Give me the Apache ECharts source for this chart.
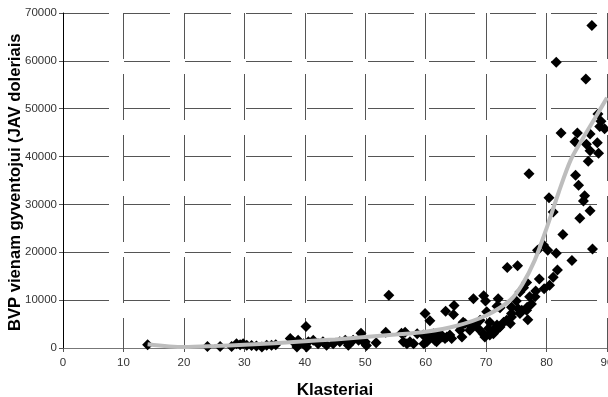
<!DOCTYPE html>
<html>
<head>
<meta charset="utf-8">
<script src="https://cdn.jsdelivr.net/npm/echarts@6/dist/echarts.min.js"></script>
<style>
  html, body { margin: 0; padding: 0; background: #fff; }
  #chart { width: 608px; height: 397px; }
</style>
</head>
<body>
<div id="chart"></div>
<script>
// cluster index (x) and GDP per capita (y)
const pointsX = [
  14.0, 23.9, 26.0, 27.9, 28.7, 29.3, 29.8, 30.4, 31.2, 32.0, 32.9, 33.7, 34.5, 35.2,
  37.6, 38.1, 38.7, 38.9, 39.8, 40.2, 40.3, 40.6, 41.4, 42.2, 43.0, 43.6, 44.7, 45.8, 46.7, 47.2, 48.0, 48.9,
  49.3, 49.7, 50.0, 50.2, 51.8, 53.4, 53.9, 56.0, 56.3, 56.6, 56.9, 57.4, 58.0, 58.6, 59.6, 59.7, 59.9,
  60.2, 60.7, 60.7, 61.3, 61.3, 61.5, 61.8, 62.1, 62.4, 62.7, 63.2, 63.3, 63.5, 64.0, 64.3, 64.6, 64.7,
  65.7, 65.7, 66.0, 66.2, 66.5, 67.3, 67.6, 67.9, 68.4, 68.7, 69.0, 69.5, 69.6, 69.9, 69.8,
  70.1, 70.4, 70.6, 70.6, 71.2, 71.2, 71.8, 71.8, 72.0, 72.0, 72.3, 72.3, 72.9, 73.4, 73.5,
  74.0, 74.2, 74.2, 74.2, 75.0, 75.2, 75.3, 75.6, 75.6, 75.9, 76.2, 76.7, 76.7, 76.8, 76.9,
  77.1, 77.2, 77.5, 78.1, 78.2, 78.5, 78.8, 79.5, 79.6, 80.2, 80.4, 80.5,
  81.1, 81.1, 81.6, 81.6, 81.8, 82.4, 82.7, 84.2, 84.7, 84.8, 85.1, 85.3, 85.5,
  86.1, 86.3, 86.5, 86.6, 86.9, 87.2, 87.2, 87.2, 87.5, 87.6, 88.4, 88.5, 88.6, 88.8, 89.0, 89.6
];
const pointsY = [
  700, 300, 300, 300, 900, 700, 900, 600, 500, 400, 200, 600, 600, 700,
  2000, 1300, 200, 1600, 900, 4500, 200, 1300, 1600, 900, 1300, 600, 900, 1300, 1600, 600, 1600, 1600,
  3100, 1300, 1300, 500, 1100, 3300, 11000, 3100, 1300, 3300, 900, 1300, 900, 3000, 2700, 900, 7200,
  1300, 5700, 2700, 2300, 3000, 1600, 1300, 2300, 3000, 2300, 2000, 7700, 2300, 2700, 2000, 7000, 8900,
  3700, 4500, 2300, 5400, 5100, 3700, 4400, 10300, 5100, 4100, 5800, 3000, 10900, 9800, 2300,
  7600, 4100, 5400, 2700, 3700, 3000, 4800, 8700, 10300, 4100, 8400, 4400, 5400, 5800, 16800,
  5100, 6500, 8500, 7200, 9800, 17200, 8200, 7200, 11700, 7900, 12600, 13700, 7900, 8500, 5900,
  36400, 10700, 9200, 10700, 11900, 20400, 14400, 21500, 12400, 20400, 31400, 13100,
  28400, 14800, 59700, 19800, 16300, 44900, 23700, 18300, 43100, 36100, 44900, 34000, 27100,
  30700, 31800, 56200, 42600, 39000, 44700, 41200, 28700, 67400, 20700, 42900, 48900, 40700, 46300, 47400, 45800
];

// gray trend curve
const trendX = [14, 20, 25, 30, 35, 40, 45, 50, 55, 60, 65, 70, 74, 76, 78, 80, 82, 84, 86, 88, 90];
const trendY = [800, 200, 400, 700, 1000, 1400, 1800, 2300, 2800, 3400, 4600, 6800, 10000, 13300, 18200, 25000, 32500, 39300, 43800, 48000, 52300];

const xTicks = [0, 10, 20, 30, 40, 50, 60, 70, 80, 90];
const yTicks = [0, 10000, 20000, 30000, 40000, 50000, 60000, 70000];

const font = 'Liberation Sans, Arial, sans-serif';
const chart = echarts.init(document.getElementById('chart'), null, { renderer: 'canvas' });

const option = {
  animation: false,
  backgroundColor: '#fff',
  grid: { left: 63, right: 1, top: 13, bottom: 49, containLabel: false, outerBoundsMode: 'none' },
  xAxis: {
    type: 'value',
    min: xTicks[0],
    max: xTicks[xTicks.length - 1],
    interval: 10,
    name: 'Klasteriai',
    nameLocation: 'middle',
    nameGap: 34,
    nameTextStyle: { fontFamily: font, fontSize: 17, fontWeight: 'bold', color: '#000' },
    axisLine: { lineStyle: { color: '#777', width: 1 } },
    axisTick: { show: true, length: 4, lineStyle: { color: '#555' } },
    axisLabel: { fontFamily: font, fontSize: 11.5, color: '#333', margin: 9 },
    splitLine: { show: true, lineStyle: { color: '#555', width: 1, type: [46, 15] } }
  },
  yAxis: {
    type: 'value',
    min: yTicks[0],
    max: yTicks[yTicks.length - 1],
    interval: 10000,
    axisLine: { show: true, lineStyle: { color: '#000', width: 1 } },
    axisTick: { show: true, length: 4, lineStyle: { color: '#555' } },
    axisLabel: { fontFamily: font, fontSize: 11.5, color: '#333', margin: 6, formatter: v => String(v) },
    splitLine: { show: true, lineStyle: { color: '#555', width: 1, type: [46, 15] } }
  },
  graphic: [{
    type: 'text',
    x: 15,
    y: 331,
    rotation: Math.PI / 2,
    style: {
      text: 'BVP vienam gyventojui (JAV doleriais',
      fontFamily: font,
      fontSize: 16.6,
      fontWeight: 'bold',
      fill: '#000',
      textAlign: 'left',
      textVerticalAlign: 'middle'
    }
  }],
  series: [
    {
      type: 'scatter',
      symbol: 'diamond',
      symbolSize: 11,
      itemStyle: { color: '#000', opacity: 1 },
      z: 2,
      data: pointsX.map((x, i) => [x, pointsY[i]])
    },
    {
      type: 'line',
      smooth: 0.3,
      showSymbol: false,
      lineStyle: { color: '#bdbdbd', width: 4 },
      z: 3,
      data: trendX.map((x, i) => [x, trendY[i]])
    }
  ]
};

chart.setOption(option);
</script>
</body>
</html>
